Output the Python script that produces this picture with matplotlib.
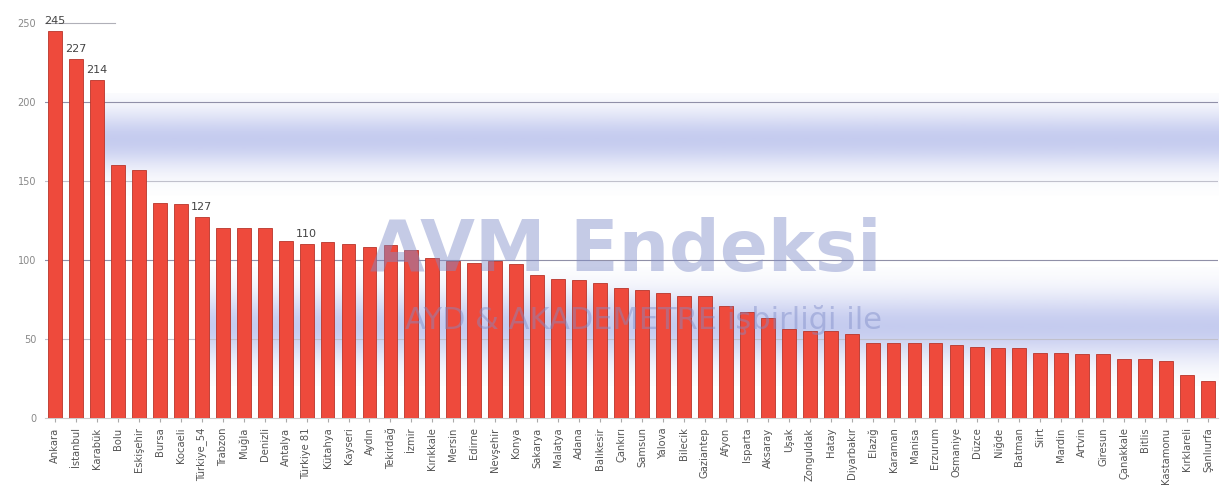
import matplotlib
matplotlib.use("Agg")
import matplotlib.pyplot as plt
import numpy as np

categories = ["Ankara", "İstanbul", "Karabük", "Bolu", "Eskişehir", "Bursa", "Kocaeli",
              "Türkiye_54", "Trabzon", "Muğla", "Denizli", "Antalya", "Türkiye 81",
              "Kütahya", "Kayseri", "Aydın", "Tekirdağ", "İzmir", "Kırıkkale", "Mersin",
              "Edirne", "Nevşehir", "Konya", "Sakarya", "Malatya", "Adana", "Balıkesir",
              "Çankırı", "Samsun", "Yalova", "Bilecik", "Gaziantep", "Afyon", "Isparta",
              "Aksaray", "Uşak", "Zonguldak", "Hatay", "Diyarbakır", "Elazığ", "Karaman",
              "Manisa", "Erzurum", "Osmaniye", "Düzce", "Niğde", "Batman", "Siirt",
              "Mardin", "Artvin", "Giresun", "Çanakkale", "Bitlis", "Kastamonu",
              "Kırklareli", "Şanlıurfa"]
values = [245, 227, 214, 160, 157, 136, 135, 127, 120, 120, 120, 112, 110, 111, 110,
          108, 109, 106, 101, 99, 98, 99, 97, 90, 88, 87, 85, 82, 81, 79, 77, 77, 71,
          67, 63, 56, 55, 55, 53, 47, 47, 47, 47, 46, 45, 44, 44, 41, 41, 40, 40, 37,
          37, 36, 27, 23]
labeled = ["Ankara", "İstanbul", "Karabük", "Türkiye_54", "Türkiye 81"]
yticks = [0, 50, 100, 150, 200, 250]

fig = plt.figure(figsize=(12.24, 5.03), dpi=100)
ax = fig.add_axes([0.0364, 0.1696, 0.9591, 0.8167])
n = len(categories)
x = np.arange(n)

# soft blue background bands
def band(y0, y1, x0, x1, peak, alpha):
    t = np.linspace(0, 1, 200)
    prof = np.exp(-((t - peak) / 0.28) ** 2)
    rgba = np.zeros((200, 1, 4))
    rgba[..., 0] = 0.55
    rgba[..., 1] = 0.60
    rgba[..., 2] = 0.88
    rgba[..., 3] = (prof * alpha)[:, None]
    ax.imshow(rgba, extent=[x0, x1, y0, y1], origin="lower", aspect="auto",
              zorder=0, interpolation="bilinear")

band(140, 205, 2.3, n - 0.5, 0.55, 0.5)
band(20, 95, 7.0, n - 0.5, 0.5, 0.5)
ax.set_xlim(-0.5, n - 0.5)
ax.set_ylim(0, 260)

for yv, col in zip(yticks[1:5], ["#c0c0cc", "#9090a8", "#c0c0cc", "#9090a8"]):
    ax.axhline(yv, color=col, lw=0.8, zorder=1)
ax.axhline(250, xmin=0.0, xmax=0.06, color="#b0b0b8", lw=0.8, zorder=1)

bars = ax.bar(x, values, width=0.66, color="#ee4a3c", edgecolor="#b8342a",
              linewidth=0.6, zorder=3)

# watermark
ax.text(0.495, 0.405, "AVM Endeksi", transform=ax.transAxes, fontsize=51,
        fontweight="bold", color="#7f8cc8", alpha=0.45, ha="center", va="center",
        zorder=4)
ax.text(0.51, 0.238, "AYD & AKADEMETRE işbirliği ile", transform=ax.transAxes,
        fontsize=22, color="#7f8cc8", alpha=0.45, ha="center", va="center", zorder=4)

for i, (c, v) in enumerate(zip(categories, values)):
    if c in labeled:
        ax.text(i, v + 3, str(v), ha="center", va="bottom", fontsize=8,
                color="#444444", zorder=5)

ax.set_xticks(x)
ax.set_xticklabels(categories, rotation=90, fontsize=7.2, color="#555555")
ax.set_yticks(yticks)
ax.set_yticklabels([str(t) for t in yticks], fontsize=7, color="#888888")
ax.tick_params(axis="y", length=0, pad=6)
ax.tick_params(axis="x", length=3, color="#aaaaaa", pad=4)
for s in ["top", "right", "left"]:
    ax.spines[s].set_visible(False)
ax.spines["bottom"].set_color("#cccccc")

fig.savefig("out.png", dpi=100)
